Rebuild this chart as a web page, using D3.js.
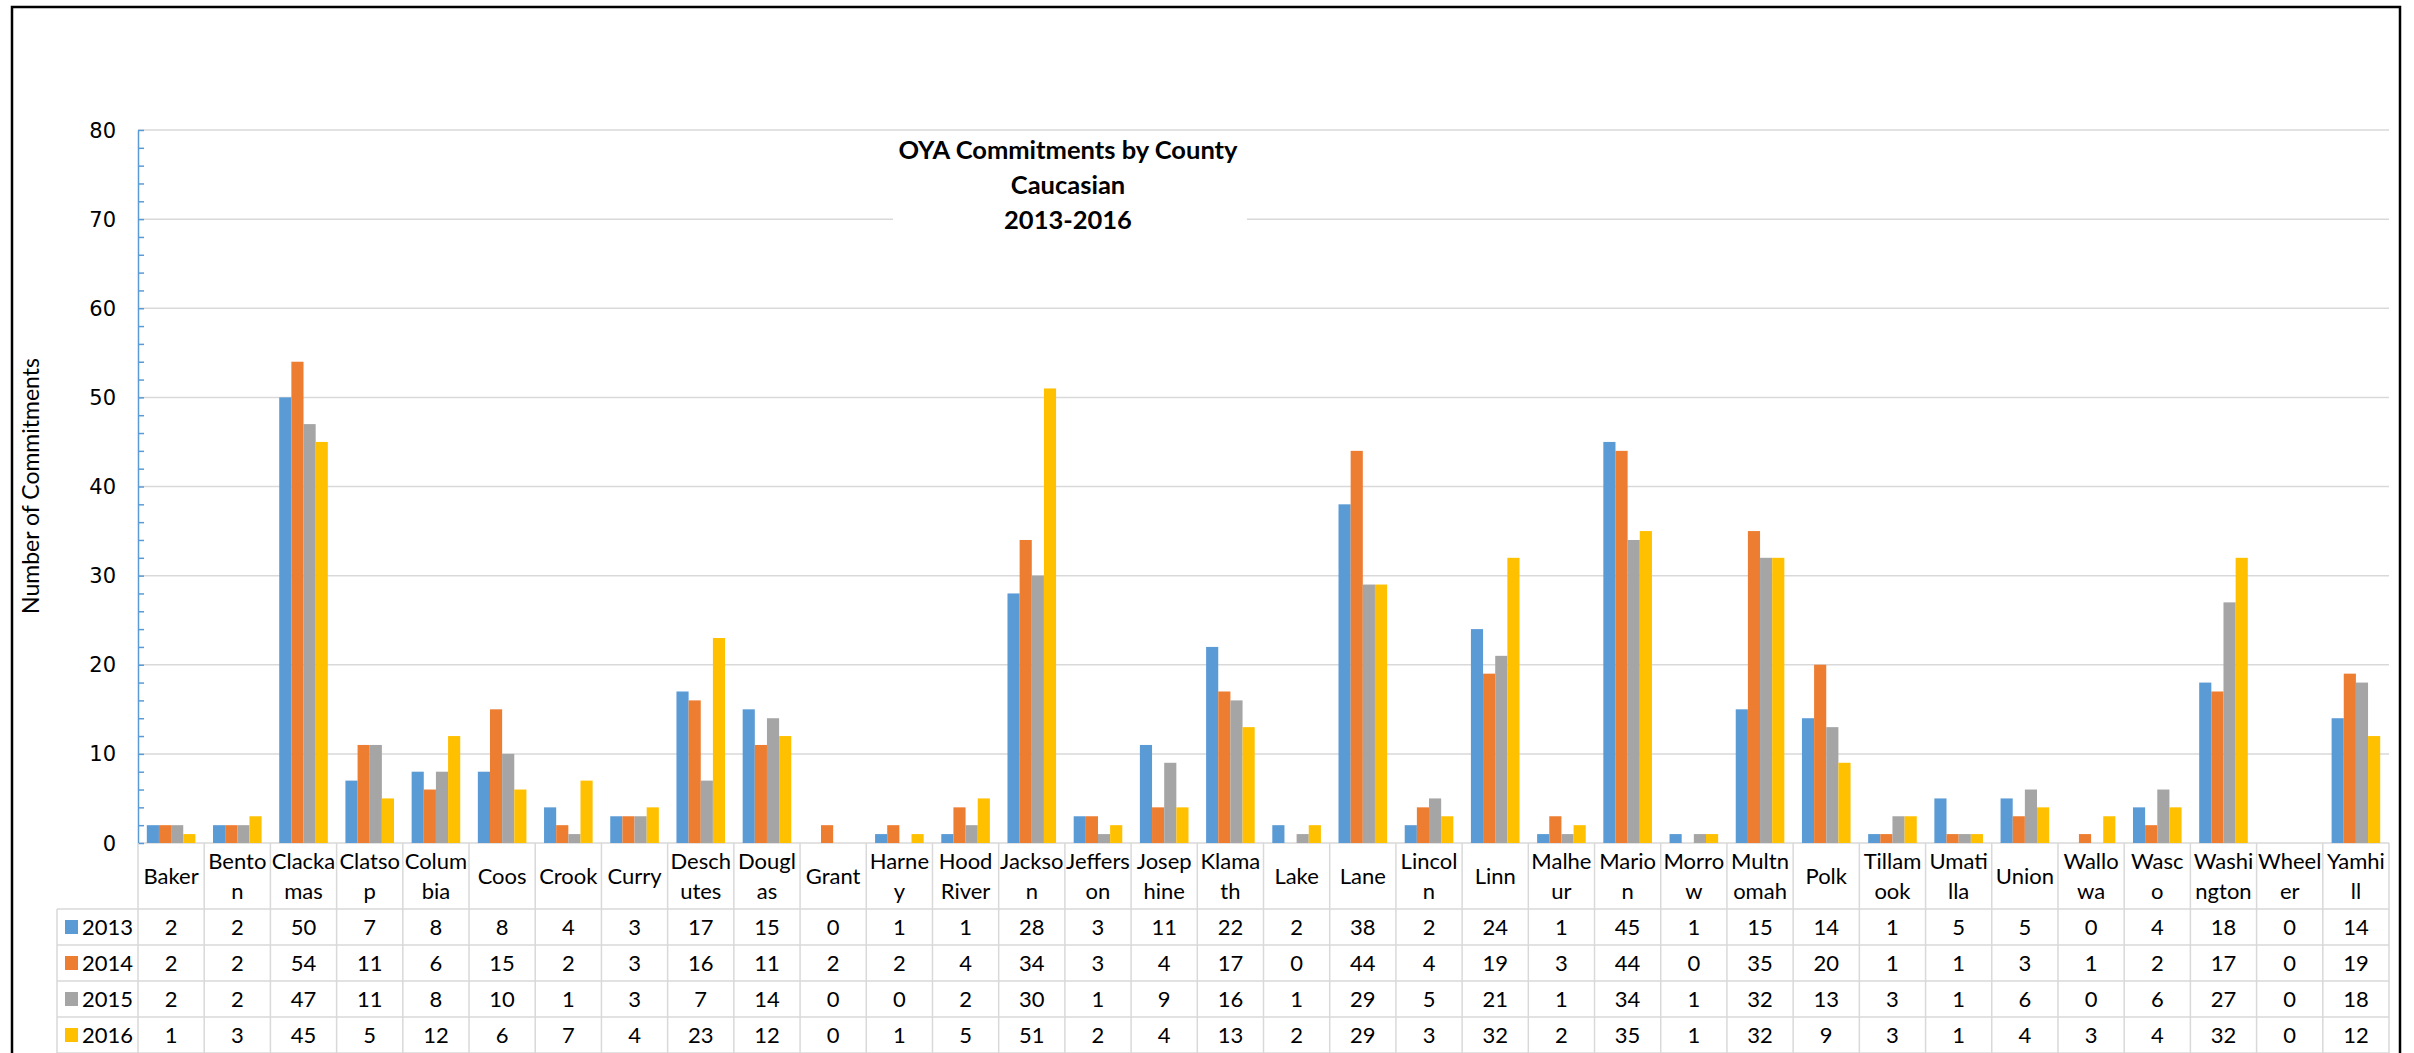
<html>
<script src='https://d3js.org/d3.v7.min.js'></script>
<style>
body {margin:0; background:#fff;}
text {font-family: Lato, Calibri, sans-serif; fill:#000;}
</style>
<body>
<svg width=2414 height=1053></svg>
<script>
var counties = ["Baker","Benton","Clackamas","Clatsop","Columbia","Coos","Crook","Curry","Deschutes","Douglas","Grant","Harney","Hood River","Jackson","Jefferson","Josephine","Klamath","Lake","Lane","Lincoln","Linn","Malheur","Marion","Morrow","Multnomah","Polk","Tillamook","Umatilla","Union","Wallowa","Wasco","Washington","Wheeler","Yamhill"]
// how each name wraps in its table cell
var countyLabels = ["Baker","Bento|n","Clacka|mas","Clatso|p","Colum|bia","Coos","Crook","Curry","Desch|utes","Dougl|as","Grant","Harne|y","Hood|River","Jackso|n","Jeffers|on","Josep|hine","Klama|th","Lake","Lane","Lincol|n","Linn","Malhe|ur","Mario|n","Morro|w","Multn|omah","Polk","Tillam|ook","Umati|lla","Union","Wallo|wa","Wasc|o","Washi|ngton","Wheel|er","Yamhi|ll"]
var years = ["2013","2014","2015","2016"]
var v2013 = [2,2,50,7,8,8,4,3,17,15,0,1,1,28,3,11,22,2,38,2,24,1,45,1,15,14,1,5,5,0,4,18,0,14]
var v2014 = [2,2,54,11,6,15,2,3,16,11,2,2,4,34,3,4,17,0,44,4,19,3,44,0,35,20,1,1,3,1,2,17,0,19]
var v2015 = [2,2,47,11,8,10,1,3,7,14,0,0,2,30,1,9,16,1,29,5,21,1,34,1,32,13,3,1,6,0,6,27,0,18]
var v2016 = [1,3,45,5,12,6,7,4,23,12,0,1,5,51,2,4,13,2,29,3,32,2,35,1,32,9,3,1,4,3,4,32,0,12]
var colors = ["#5B9BD5","#ED7D31","#A5A5A5","#FFC000"]
var yTicks = [0,10,20,30,40,50,60,70,80]
var titleLines = ["OYA Commitments by County","Caucasian","2013-2016"]
var yTitle = "Number of Commitments"

var series = [v2013, v2014, v2015, v2016]
var svg = d3.select("svg")

var x = d3.scaleBand().domain(counties).range([138, 2389])
var groupW = x.bandwidth() * 0.734
var xs = d3.scaleBand().domain(years).range([0, groupW])
var y = d3.scaleLinear().domain([0, 80]).range([843, 130])

// gridlines
svg.append("g").selectAll("line").data(yTicks).enter().append("line")
  .attr("x1", 138).attr("x2", 2389)
  .attr("y1", d => y(d)).attr("y2", d => y(d))
  .attr("stroke", "#d9d9d9").attr("stroke-width", 1.5)

// title box (hides the gridline under it)
svg.append("rect").attr("x", 893).attr("y", 136).attr("width", 354).attr("height", 100).attr("fill", "#fff")
svg.append("g").selectAll("text").data(titleLines).enter().append("text")
  .attr("x", 1068).attr("y", (d, i) => 150 + i * 35).attr("dy", "0.35em")
  .attr("text-anchor", "middle").style("font-weight", "bold").style("font-size", "25.5px")
  .text(d => d)

// bars
series.forEach(function(vals, s) {
  svg.append("g").selectAll("rect").data(vals).enter().append("rect")
    .attr("x", (d, i) => x(counties[i]) + (x.bandwidth() - groupW) / 2 + xs(years[s]))
    .attr("y", d => y(d))
    .attr("width", xs.bandwidth())
    .attr("height", d => y(0) - y(d))
    .attr("fill", colors[s])
})

// y axis with minor ticks every 2
var ax = svg.append("g").attr("transform", "translate(138,0)")
  .call(d3.axisRight(y).tickValues(d3.range(0, 81, 2)).tickSize(6).tickSizeOuter(0).tickFormat(""))
ax.selectAll("path,line").attr("stroke", "#5B9BD5").attr("stroke-width", 1.5)

svg.append("g").selectAll("text").data(yTicks).enter().append("text")
  .attr("x", 116).attr("y", d => y(d)).attr("dy", "0.36em")
  .attr("text-anchor", "end").style("font-family", "'DejaVu Sans', Verdana, sans-serif").style("font-size", "21px")
  .text(d => d)

svg.append("text").attr("transform", "translate(31,486) rotate(-90)")
  .attr("text-anchor", "middle").attr("dy", "0.35em").style("font-size", "23px")
  .text(yTitle)

// data table
var rowTop = [843, 909, 945, 981, 1017, 1053]
var grid = svg.append("g").attr("stroke", "#d9d9d9").attr("stroke-width", 1.5)
rowTop.slice(1).forEach(function(ry) {
  grid.append("line").attr("x1", 57).attr("x2", 2389).attr("y1", ry).attr("y2", ry)
})
counties.forEach(function(c) {
  grid.append("line").attr("x1", x(c)).attr("x2", x(c)).attr("y1", 843).attr("y2", 1053)
})
grid.append("line").attr("x1", 2389).attr("x2", 2389).attr("y1", 843).attr("y2", 1053)
grid.append("line").attr("x1", 57).attr("x2", 57).attr("y1", 909).attr("y2", 1053)

counties.forEach(function(c, i) {
  var parts = countyLabels[i].split("|")
  var cx = x(c) + x.bandwidth() / 2
  var t = svg.append("text").attr("text-anchor", "middle").style("font-size", "22px")
  parts.forEach(function(p, k) {
    t.append("tspan").attr("x", cx)
      .attr("y", 876 + (k - (parts.length - 1) / 2) * 30).attr("dy", "0.35em").text(p)
  })
})

series.forEach(function(vals, s) {
  var cy = (rowTop[s + 1] + rowTop[s + 2]) / 2
  svg.append("rect").attr("x", 65).attr("y", cy - 7).attr("width", 13).attr("height", 14).attr("fill", colors[s])
  svg.append("text").attr("x", 82).attr("y", cy).attr("dy", "0.35em").style("font-size", "22px").text(years[s])
  svg.append("g").selectAll("text").data(vals).enter().append("text")
    .attr("x", (d, i) => x(counties[i]) + x.bandwidth() / 2).attr("y", cy).attr("dy", "0.35em")
    .attr("text-anchor", "middle").style("font-size", "22px")
    .text(d => d)
})

// outer frame
svg.append("rect").attr("x", 12).attr("y", 7).attr("width", 2388).attr("height", 1060)
  .attr("fill", "none").attr("stroke", "#000").attr("stroke-width", 2.5)
</script>
</body>
</html>
